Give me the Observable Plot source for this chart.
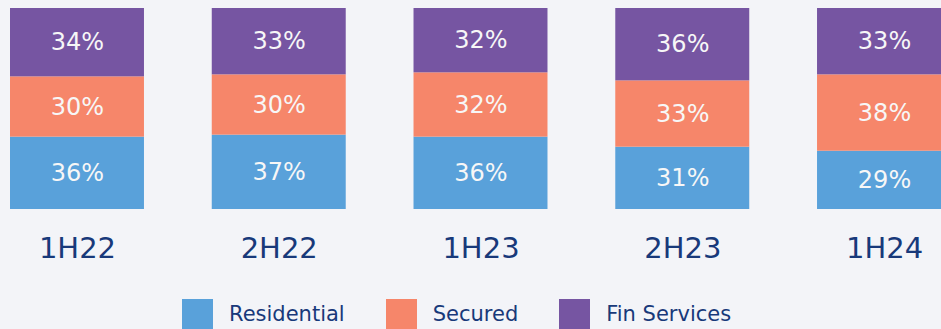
<!DOCTYPE html>
<html>
<head>
<meta charset="utf-8">
<script src="https://cdn.jsdelivr.net/npm/d3@7"></script>
<script src="https://cdn.jsdelivr.net/npm/@observablehq/plot@0.6"></script>
<style>
  html, body { margin: 0; padding: 0; background: #f3f4f8; overflow: hidden; }
  body { width: 941px; height: 329px; position: relative; font-family: "DejaVu Sans", Verdana, sans-serif; }
  #chart svg { display: block; overflow: hidden; }
  #legend { position: absolute; left: 182px; top: 299px; display: flex; gap: 41px; }
  .item { display: flex; align-items: flex-start; gap: 16px; }
  .swatch { width: 31px; height: 31px; }
  .label { font-size: 21px; line-height: 21px; padding-top: 5px; color: #18397a; white-space: nowrap; }
</style>
</head>
<body>
<div id="chart"></div>
<div id="legend"></div>
<script>
// Portfolio mix by half-year (% of total)
const periods = ["1H22", "2H22", "1H23", "2H23", "1H24"];
const series = ["Residential", "Secured", "Fin Services"];
const residential = [36, 37, 36, 31, 29];
const secured = [30, 30, 32, 33, 38];
const finServices = [34, 33, 32, 36, 33];
const colors = ["#59a1da", "#f6866a", "#7655a2"];

const values = [residential, secured, finServices];
const rows = series.flatMap((s, i) =>
  periods.map((p, j) => ({period: p, series: s, value: values[i][j]}))
);

const plot = Plot.plot({
  width: 941,
  height: 275,
  marginTop: 8,
  marginBottom: 66,
  style: {background: "transparent", fontFamily: "'DejaVu Sans', Verdana, sans-serif"},
  x: {domain: periods, range: [10, 951], paddingInner: 0.336, paddingOuter: 0, round: false, label: null},
  y: {domain: [0, 100], axis: null},
  color: {domain: series, range: colors},
  marks: [
    Plot.barY(rows, {x: "period", y: "value", fill: "series", inset: 0}),
    Plot.text(rows, Plot.stackY({
      x: "period", y: "value", z: "series",
      text: d => `${d.value}%`,
      fill: "#f7f7f7", fontSize: 24
    })),
    Plot.axisX({tickSize: 0, tickPadding: 28, fontSize: 29, color: "#18397a", label: null})
  ]
});
document.getElementById("chart").appendChild(plot);

const legend = document.getElementById("legend");
series.forEach((s, i) => {
  const item = document.createElement("div");
  item.className = "item";
  const sw = document.createElement("div");
  sw.className = "swatch";
  sw.style.background = colors[i];
  const lb = document.createElement("span");
  lb.className = "label";
  lb.textContent = s;
  item.append(sw, lb);
  legend.appendChild(item);
});
</script>
</body>
</html>
